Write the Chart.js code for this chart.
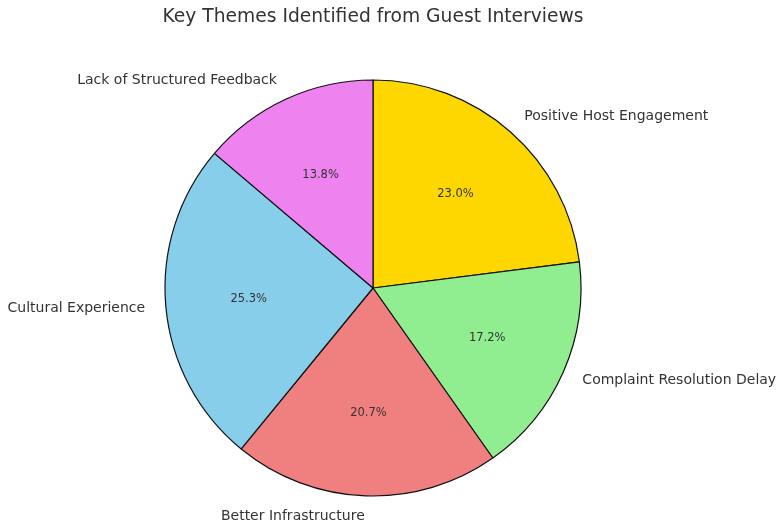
<!DOCTYPE html>
<html>
<head>
<meta charset="utf-8">
<script src="https://cdn.jsdelivr.net/npm/chart.js@4"></script>
<style>
html,body{margin:0;padding:0;background:#fff;}
#wrap{width:780px;height:525px;position:relative;}
</style>
</head>
<body>
<div id="wrap"><canvas id="c" width="780" height="525"></canvas></div>
<script>
const chartTitle = "Key Themes Identified from Guest Interviews";
const categories = ["Positive Host Engagement", "Complaint Resolution Delay", "Better Infrastructure", "Cultural Experience", "Lack of Structured Feedback"];
const counts = [20, 15, 18, 22, 12];
const sliceColors = ["#FFD700", "#90EE90", "#F08080", "#87CEEB", "#EE82EE"];

const labelPlugin = {
  id: 'pieLabels',
  afterDraw(chart) {
    const ctx = chart.ctx;
    const meta = chart.getDatasetMeta(0);
    const total = counts.reduce((a, b) => a + b, 0);
    ctx.save();
    ctx.fillStyle = '#333';
    ctx.font = '18.7px "DejaVu Sans"';
    ctx.textAlign = 'center';
    ctx.textBaseline = 'middle';
    ctx.fillText(chartTitle, 373, 17);
    meta.data.forEach((arc, i) => {
      const mid = (arc.startAngle + arc.endAngle) / 2;
      const r = arc.outerRadius;
      const cx = arc.x, cy = arc.y;
      const lx = cx + 1.1 * r * Math.cos(mid);
      const ly = cy + 1.1 * r * Math.sin(mid);
      ctx.font = '14px "DejaVu Sans"';
      ctx.fillStyle = '#333';
      ctx.textAlign = (lx - cx) > 0 ? 'left' : 'right';
      ctx.textBaseline = 'middle';
      ctx.fillText(categories[i], lx, ly);
      const px = cx + 0.6 * r * Math.cos(mid);
      const py = cy + 0.6 * r * Math.sin(mid);
      ctx.font = '11.5px "DejaVu Sans"';
      ctx.fillStyle = '#333';
      ctx.textAlign = 'center';
      ctx.fillText((counts[i] / total * 100).toFixed(1) + '%', px, py);
    });
    ctx.restore();
  }
};

new Chart(document.getElementById('c'), {
  type: 'pie',
  data: {
    labels: categories,
    datasets: [{
      data: counts,
      backgroundColor: sliceColors,
      borderColor: '#111',
      borderWidth: 1.2,
      hoverOffset: 0
    }]
  },
  options: {
    responsive: false,
    animation: false,
    layout: { padding: { top: 79.4, bottom: 28.4, left: 0, right: 34 } },
    plugins: {
      legend: { display: false },
      title: { display: false },
      tooltip: { enabled: false }
    }
  },
  plugins: [labelPlugin]
});
</script>
</body>
</html>
